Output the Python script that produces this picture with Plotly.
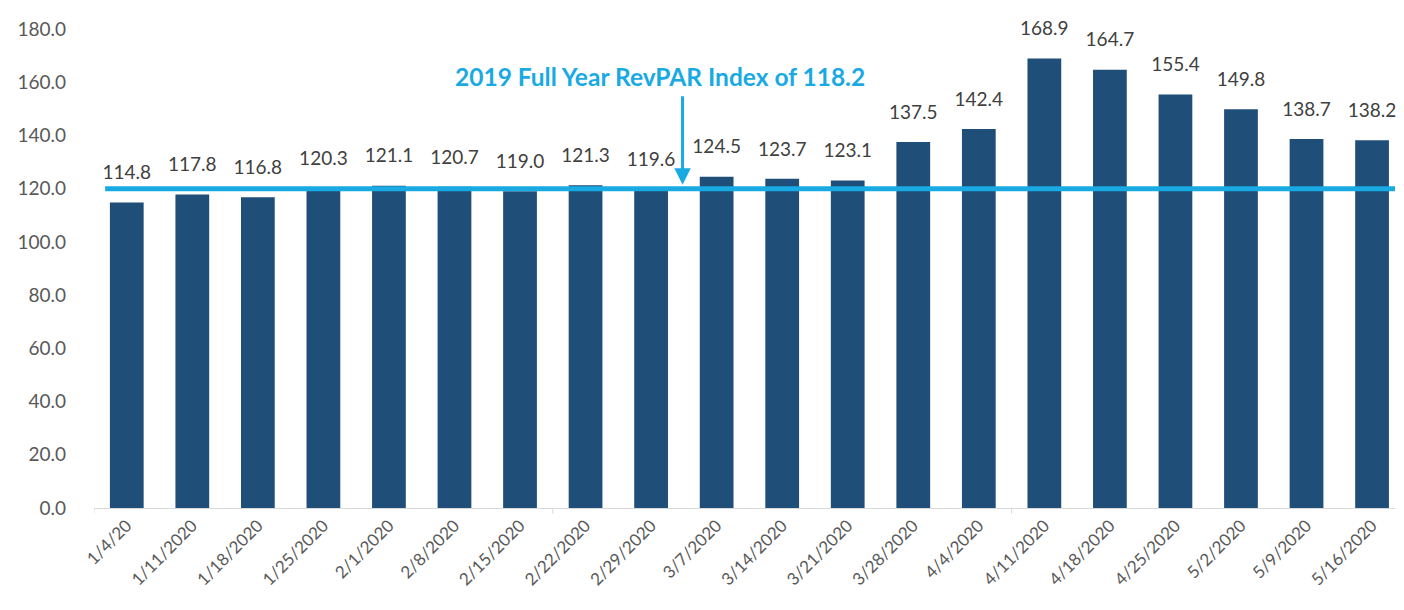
"""Weekly RevPAR index vs. 2019 full-year level."""
import plotly.graph_objects as go

weeks = ['1/4/20', '1/11/2020', '1/18/2020', '1/25/2020', '2/1/2020', '2/8/2020',
         '2/15/2020', '2/22/2020', '2/29/2020', '3/7/2020', '3/14/2020', '3/21/2020',
         '3/28/2020', '4/4/2020', '4/11/2020', '4/18/2020', '4/25/2020', '5/2/2020',
         '5/9/2020', '5/16/2020']
revpar_index = [114.8, 117.8, 116.8, 120.3, 121.1, 120.7, 119.0, 121.3, 119.6, 124.5,
                123.7, 123.1, 137.5, 142.4, 168.9, 164.7, 155.4, 149.8, 138.7, 138.2]
benchmark_level = 120.0
benchmark_text = '2019 Full Year RevPAR Index of 118.2'
y_ticks = [0, 20, 40, 60, 80, 100, 120, 140, 160, 180]

BAR = '#1F4E79'
CYAN = '#19AAE3'
GREY = '#595959'
FONT = 'Lato, "Open Sans", sans-serif'

fig = go.Figure(go.Bar(
    x=weeks, y=revpar_index,
    marker_color=BAR, marker_line_width=0,
    hovertemplate='<b>%{x}</b><br>%{y:.1f}<extra></extra>',
))

# value labels: invisible markers push the text up off the bar tops
fig.add_trace(go.Scatter(
    x=weeks, y=revpar_index, mode='markers+text',
    text=[f'{v:.1f}' for v in revpar_index], textposition='top center',
    textfont=dict(size=19, color='#404040', family=FONT),
    marker=dict(size=28, opacity=0), hoverinfo='skip', cliponaxis=False,
))

# benchmark line across the chart
fig.add_shape(type='line', xref='x', yref='y', x0=-0.33, x1=19.35,
              y0=benchmark_level, y1=benchmark_level,
              line=dict(color=CYAN, width=5), layer='above')

# callout text + arrow
fig.add_annotation(x=8.13, y=162.3, text=f'<b>{benchmark_text}</b>', showarrow=False,
                   xanchor='center', yanchor='middle',
                   font=dict(size=24.5, color=CYAN, family=FONT))
fig.add_annotation(x=8.48, y=benchmark_level, text='', showarrow=True,
                   ax=0, ay=-94, arrowhead=2, arrowsize=1.1, arrowwidth=3,
                   arrowcolor=CYAN, standoff=4)

# small ticks on the category axis every 7 weeks
for b in [-0.5, 6.5, 13.5]:
    fig.add_shape(type='line', xref='x', yref='paper', x0=b, x1=b, y0=0, y1=-0.012,
                  line=dict(color='#D9D9D9', width=1))

# page body has an 8px margin, so the figure is sized to the visible area
fig.update_layout(
    width=1396, height=602,
    paper_bgcolor='white', plot_bgcolor='white',
    margin=dict(l=78, r=9, t=12, b=102),
    bargap=0.485, showlegend=False,
    font=dict(family=FONT, color=GREY),
)
fig.update_xaxes(
    type='category', range=[-0.5, 19.35],
    tickangle=-45, tickfont=dict(size=17, color=GREY, family=FONT),
    showline=True, linecolor='#D9D9D9', linewidth=1,
    ticks='', showgrid=False,
)
fig.update_yaxes(
    range=[0, 180], tickvals=y_ticks, tickformat='.1f',
    tickfont=dict(size=19, color=GREY, family=FONT),
    showgrid=False, zeroline=False, showline=False,
    ticklabelstandoff=27, ticklabeloverflow='allow',
)

fig.write_html('out.html')
